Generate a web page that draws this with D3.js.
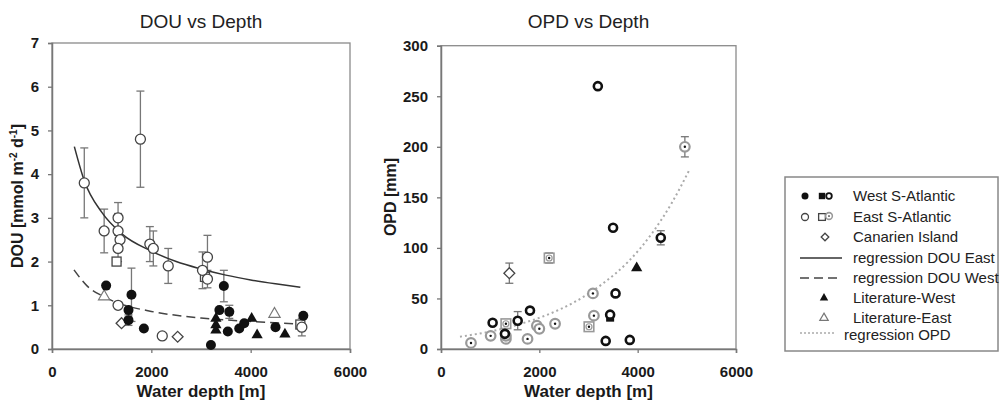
<!DOCTYPE html>
<html>
<head>
<meta charset="utf-8">
<script src="https://cdn.jsdelivr.net/npm/d3@7"></script>
<style>
  body { margin: 0; background: #fff; }
  svg { font-family: "Liberation Sans", Arial, sans-serif; }
</style>
</head>
<body>
<script>
// ---------- DOU panel : [depth m, DOU, error] ----------
const douEastCircles = [
  [650, 3.80, 0.8], [1780, 4.80, 1.1], [1050, 2.70, 0.5], [1330, 3.00, 0.35],
  [1330, 2.70, 0.4], [1370, 2.50, 0], [1330, 2.30, 0.3], [1970, 2.40, 0.4],
  [2040, 2.30, 0.4], [2340, 1.90, 0.4], [3030, 1.80, 0.42], [3130, 2.10, 0.5],
  [3130, 1.60, 0.2], [5030, 0.50, 0.2], [1330, 1.00, 0], [2220, 0.30, 0]
];
const douEastSquares = [[1300, 2.00], [3080, 1.65], [5000, 0.56]];
const douCanarien = [[1400, 0.59], [2530, 0.28]];
const douLitEast = [[1050, 1.20], [4480, 0.80]];
const douWestCircles = [
  [1090, 1.45, 0], [1600, 1.24, 0.61], [1540, 0.89, 0], [1540, 0.66, 0.12],
  [1850, 0.47, 0], [3200, 0.09, 0], [3370, 0.89, 0], [3460, 1.44, 0.36],
  [3570, 0.85, 0.15], [3540, 0.40, 0], [3770, 0.47, 0], [3870, 0.59, 0],
  [4500, 0.50, 0], [5060, 0.76, 0]
];
const douLitWest = [[3300, 0.70], [3300, 0.55], [3300, 0.43], [4020, 0.70], [4130, 0.32], [4690, 0.34]];
// regression curves
const regDouEast = [[450, 4.63], [650, 3.85], [1000, 3.13], [1400, 2.64], [2000, 2.24], [2500, 2.0],
  [3000, 1.83], [3500, 1.69], [4000, 1.58], [4500, 1.49], [5000, 1.41]];
const regDouWest = [[443, 1.81], [700, 1.45], [1000, 1.22], [1335, 1.05], [2000, 0.86],
  [3000, 0.71], [4000, 0.63], [5000, 0.57]];

// ---------- OPD panel : [depth m, OPD mm, error] ----------
const opdWestRings = [
  [3190, 260, 0], [3500, 120, 0], [4470, 110, 7], [3550, 55, 0], [1810, 38, 0],
  [1560, 28, 9], [1050, 26, 0], [1300, 15, 0], [3440, 34, 0], [3350, 8, 0], [3840, 9, 0]
];
const opdWestSquares = [[3440, 31]];
const opdEastCircles = [
  [4960, 200, 10], [3090, 55, 0], [1010, 13, 0], [1320, 10, 0], [1760, 10, 0],
  [1950, 23, 0], [2000, 20, 0], [2320, 25, 0], [610, 6, 0], [3110, 33, 0], [1320, 13, 0]
];
const opdEastSquares = [[2200, 90, 5], [3010, 22, 0], [1320, 25, 0]];
const opdCanarien = [[1390, 75, 10]];
const opdLitWest = [[3980, 80]];
const regOpd = [[386, 12.2], [1000, 17.3], [1600, 24.6], [2200, 34.6], [2700, 46], [3300, 65],
  [3800, 86], [4300, 115], [4700, 145], [5060, 178]];

const xTicks = [0, 2000, 4000, 6000];
const douTicks = [0, 1, 2, 3, 4, 5, 6, 7];
const opdTicks = [0, 50, 100, 150, 200, 250, 300];

const svg = d3.select('body').append('svg').attr('width', 1000).attr('height', 402);

function drawAxes(x, y, yTicks, title) {
  const [x0, x1] = x.range(), [y0, y1] = y.range();
  svg.append('rect').attr('x', x0).attr('y', y1).attr('width', x1 - x0).attr('height', y0 - y1)
    .attr('fill', 'none').attr('stroke', '#8a8a8a').attr('stroke-width', 1.3);
  const gx = svg.append('g').attr('transform', `translate(0,${y0})`)
    .call(d3.axisBottom(x).tickValues(xTicks).tickFormat(d3.format('d')).tickSize(4).tickPadding(13));
  const gy = svg.append('g').attr('transform', `translate(${x0},0)`)
    .call(d3.axisLeft(y).tickValues(yTicks).tickFormat(d3.format('d')).tickSize(4).tickPadding(9));
  [gx, gy].forEach(g => {
    g.select('.domain').attr('stroke', '#777').attr('stroke-width', 1.5);
    g.selectAll('.tick line').attr('stroke', '#777').attr('stroke-width', 1.3);
    g.selectAll('.tick text').attr('font-size', 15).attr('font-weight', 'bold').attr('fill', '#1a1a1a')
      .attr('font-family', '"Liberation Sans", Arial, sans-serif');
  });
  svg.append('text').attr('x', (x0 + x1) / 2).attr('y', 28).attr('text-anchor', 'middle')
    .attr('font-size', 19).attr('fill', '#222').text(title);
  svg.append('text').attr('x', (x0 + x1) / 2).attr('y', 397).attr('text-anchor', 'middle')
    .attr('font-size', 17).attr('font-weight', 'bold').attr('fill', '#1a1a1a').text('Water depth [m]');
}

function errBars(data, x, y) {
  data.filter(d => d[2] > 0).forEach(d => {
    const cx = x(d[0]), ya = y(d[1] + d[2]), yb = y(d[1] - d[2]);
    const g = svg.append('g').attr('stroke', '#777').attr('stroke-width', 1.3);
    g.append('line').attr('x1', cx).attr('x2', cx).attr('y1', ya).attr('y2', yb);
    g.append('line').attr('x1', cx - 4).attr('x2', cx + 4).attr('y1', ya).attr('y2', ya);
    g.append('line').attr('x1', cx - 4).attr('x2', cx + 4).attr('y1', yb).attr('y2', yb);
  });
}

function sym(type, size) {
  return d3.symbol().type(type).size(size)();
}

function marks(data, x, y, kind, s) {
  const g = svg.append('g');
  data.forEach(d => drawMark(g, x(d[0]), y(d[1]), kind, s || 1));
}

function drawMark(g, cx, cy, kind, s) {
  const t = `translate(${cx},${cy})`;
  if (kind === 'openCircle') {
    g.append('circle').attr('cx', cx).attr('cy', cy).attr('r', 5 * s)
      .attr('fill', '#fff').attr('stroke', '#444').attr('stroke-width', 1.3);
  } else if (kind === 'filledCircle') {
    g.append('circle').attr('cx', cx).attr('cy', cy).attr('r', 5 * s).attr('fill', '#111');
  } else if (kind === 'openSquare') {
    g.append('rect').attr('x', cx - 4.5 * s).attr('y', cy - 4.5 * s).attr('width', 9 * s).attr('height', 9 * s)
      .attr('fill', '#fff').attr('stroke', '#444').attr('stroke-width', 1.3);
  } else if (kind === 'filledSquare') {
    g.append('rect').attr('x', cx - 4 * s).attr('y', cy - 4 * s).attr('width', 8 * s).attr('height', 8 * s)
      .attr('fill', '#111');
  } else if (kind === 'diamond') {
    g.append('path').attr('transform', t).attr('d', sym(d3.symbolDiamond2, 75 * s * s))
      .attr('fill', '#fff').attr('stroke', '#444').attr('stroke-width', 1.3);
  } else if (kind === 'filledTri') {
    g.append('path').attr('transform', t).attr('d', sym(d3.symbolTriangle, 55 * s * s)).attr('fill', '#111');
  } else if (kind === 'openTri') {
    g.append('path').attr('transform', t).attr('d', sym(d3.symbolTriangle, 55 * s * s))
      .attr('fill', '#fff').attr('stroke', '#777').attr('stroke-width', 1.2);
  } else if (kind === 'ring') {
    g.append('circle').attr('cx', cx).attr('cy', cy).attr('r', 4 * s)
      .attr('fill', '#fff').attr('stroke', '#111').attr('stroke-width', 2.6 * s);
  } else if (kind === 'dotCircle') {
    g.append('circle').attr('cx', cx).attr('cy', cy).attr('r', 4.8 * s)
      .attr('fill', '#fff').attr('stroke', '#999').attr('stroke-width', 2.2 * s);
    g.append('circle').attr('cx', cx).attr('cy', cy).attr('r', 1.2 * s).attr('fill', '#111');
  } else if (kind === 'dotSquare') {
    g.append('rect').attr('x', cx - 4.8 * s).attr('y', cy - 4.8 * s).attr('width', 9.6 * s).attr('height', 9.6 * s)
      .attr('fill', '#fff').attr('stroke', '#999').attr('stroke-width', 1.6 * s);
    g.append('circle').attr('cx', cx).attr('cy', cy).attr('r', 3 * s)
      .attr('fill', 'none').attr('stroke', '#999').attr('stroke-width', 1.2 * s);
    g.append('circle').attr('cx', cx).attr('cy', cy).attr('r', 1.2 * s).attr('fill', '#111');
  }
}

function curve(data, x, y, stroke, width, dash) {
  svg.append('path').datum(data)
    .attr('d', d3.line().x(d => x(d[0])).y(d => y(d[1])).curve(d3.curveMonotoneX))
    .attr('fill', 'none').attr('stroke', stroke).attr('stroke-width', width)
    .attr('stroke-dasharray', dash || null);
}

// ---------- left panel ----------
const x1 = d3.scaleLinear().domain([0, 6000]).range([52, 350]);
const y1 = d3.scaleLinear().domain([0, 7]).range([349, 43]);
drawAxes(x1, y1, douTicks, 'DOU vs Depth');
const yl1 = svg.append('text').attr('transform', 'translate(23,196) rotate(-90)')
  .attr('text-anchor', 'middle').attr('font-size', 16).attr('font-weight', 'bold').attr('fill', '#1a1a1a');
yl1.append('tspan').text('DOU [mmol m');
yl1.append('tspan').attr('dy', -6).attr('font-size', 10).text('-2');
yl1.append('tspan').attr('dy', 6).text(' d');
yl1.append('tspan').attr('dy', -6).attr('font-size', 10).text('-1');
yl1.append('tspan').attr('dy', 6).text(']');

errBars(douEastCircles, x1, y1);
errBars(douWestCircles, x1, y1);
curve(regDouEast, x1, y1, '#333', 1.5);
curve(regDouWest, x1, y1, '#444', 1.5, '9,5');
marks(douEastSquares, x1, y1, 'openSquare');
marks(douEastCircles, x1, y1, 'openCircle');
marks(douCanarien, x1, y1, 'diamond');
marks(douLitEast, x1, y1, 'openTri');
marks(douWestCircles, x1, y1, 'filledCircle');
marks(douLitWest, x1, y1, 'filledTri');

// ---------- right panel ----------
const x2 = d3.scaleLinear().domain([0, 6000]).range([441, 736]);
const y2 = d3.scaleLinear().domain([0, 300]).range([349, 45.7]);
drawAxes(x2, y2, opdTicks, 'OPD vs Depth');
svg.append('text').attr('transform', 'translate(396,197) rotate(-90)')
  .attr('text-anchor', 'middle').attr('font-size', 16).attr('font-weight', 'bold').attr('fill', '#1a1a1a')
  .text('OPD [mm]');

curve(regOpd, x2, y2, '#aaa', 2, '2,3');
errBars(opdWestRings, x2, y2);
errBars(opdEastCircles, x2, y2);
errBars(opdEastSquares, x2, y2);
errBars(opdCanarien, x2, y2);
marks(opdEastCircles, x2, y2, 'dotCircle');
marks(opdEastSquares, x2, y2, 'dotSquare');
marks(opdWestSquares, x2, y2, 'filledSquare');
marks(opdWestRings, x2, y2, 'ring');
marks(opdCanarien, x2, y2, 'diamond');
marks(opdLitWest, x2, y2, 'filledTri');

// ---------- legend ----------
const leg = svg.append('g');
leg.append('rect').attr('x', 785).attr('y', 177).attr('width', 213).attr('height', 174)
  .attr('fill', '#fff').attr('stroke', '#888').attr('stroke-width', 1.5);
const legItems = [
  { label: 'West S-Atlantic', y: 196, x: 853 },
  { label: 'East S-Atlantic', y: 217, x: 853 },
  { label: 'Canarien Island', y: 237, x: 853 },
  { label: 'regression DOU East', y: 258, x: 853 },
  { label: 'regression DOU West', y: 278, x: 853 },
  { label: 'Literature-West', y: 298, x: 853 },
  { label: 'Literature-East', y: 318, x: 853 },
  { label: 'regression OPD', y: 335, x: 844 }
];
leg.selectAll('text.lab').data(legItems).enter().append('text').attr('class', 'lab')
  .attr('x', d => d.x).attr('y', d => d.y).attr('dy', '0.35em')
  .attr('font-size', 15).attr('fill', '#222').text(d => d.label);
drawMark(leg, 805, 196, 'filledCircle', 0.7);
drawMark(leg, 822, 196, 'filledSquare', 0.8);
drawMark(leg, 829, 196, 'ring', 0.7);
drawMark(leg, 805, 217, 'openCircle', 0.7);
drawMark(leg, 822, 217, 'openSquare', 0.75);
drawMark(leg, 829, 216, 'dotCircle', 0.7);
drawMark(leg, 825, 237, 'diamond', 0.7);
leg.append('line').attr('x1', 800).attr('x2', 842).attr('y1', 258).attr('y2', 258).attr('stroke', '#333').attr('stroke-width', 1.5);
leg.append('line').attr('x1', 800).attr('x2', 842).attr('y1', 278).attr('y2', 278).attr('stroke', '#444').attr('stroke-width', 1.5).attr('stroke-dasharray', '9,5');
drawMark(leg, 824, 298, 'filledTri', 0.75);
drawMark(leg, 824, 318, 'openTri', 0.75);
leg.append('line').attr('x1', 800).attr('x2', 835).attr('y1', 333).attr('y2', 333).attr('stroke', '#aaa').attr('stroke-width', 1.5).attr('stroke-dasharray', '2,2');
</script>
</body>
</html>
